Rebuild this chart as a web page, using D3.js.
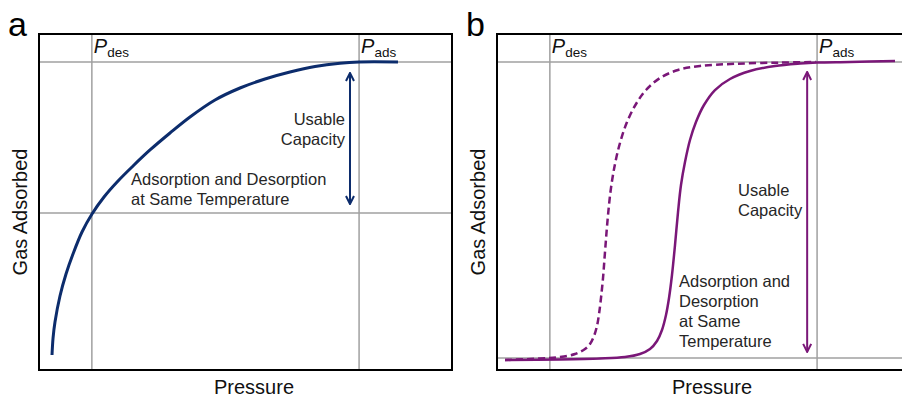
<!DOCTYPE html>
<html>
<head>
<meta charset="utf-8">
<script src="https://cdn.jsdelivr.net/npm/d3@7"></script>
<style>
  body { margin: 0; background: #fff; }
  text { font-family: "Liberation Sans", Arial, sans-serif; }
</style>
</head>
<body>
<div id="my_isotherms"></div>
<script>

// ======================= //
// DATA
// ======================= //

// panel a : single isotherm (pressure 0-100, gas adsorbed 0-100)
var isoA_pressure = [3.15, 3.40, 3.87, 5.08, 6.54, 8.23, 10.41, 12.83, 15.74, 19.13, 22.76, 26.88, 31.72, 36.56, 42.62, 48.67, 54.72, 60.77, 66.83, 72.88, 77.48, 86.92]
var isoA_gas      = [4.46, 9.50, 14.29, 22.02, 28.57, 34.52, 41.07, 46.43, 51.49, 56.25, 60.71, 65.48, 70.54, 75.30, 80.36, 83.93, 86.61, 88.69, 90.33, 91.31, 91.67, 91.67]

// panel b : adsorption (solid) and desorption (dashed) step isotherms
var adsB_pressure = [1.94, 15.25, 24.94, 30.99, 34.62, 37.05, 38.74, 39.95, 40.92, 41.65, 42.37, 43.10, 43.83, 44.55, 45.52, 46.73, 48.18, 50.12, 52.78, 56.42, 61.26, 67.31, 73.37, 77.48, 85.47, 96.37]
var adsB_gas      = [2.98, 3.13, 3.42, 3.87, 4.76, 6.25, 8.63, 11.90, 16.37, 21.43, 28.27, 37.20, 47.02, 55.06, 61.90, 68.45, 73.81, 78.87, 83.33, 86.61, 88.99, 90.48, 91.22, 91.52, 91.67, 91.96]
var desB_pressure = [1.94, 10.41, 15.25, 18.89, 21.31, 22.52, 23.49, 24.21, 24.70, 25.18, 25.67, 26.15, 26.88, 27.60, 28.57, 29.78, 31.48, 33.66, 36.08, 39.47, 43.83, 49.15, 57.63, 68.52, 77.24]
var desB_gas      = [2.98, 3.42, 3.87, 4.76, 6.25, 7.74, 10.12, 13.10, 16.67, 21.43, 27.38, 35.12, 46.13, 54.17, 61.31, 67.56, 73.81, 79.17, 83.33, 86.90, 89.29, 90.48, 91.13, 91.49, 91.67]

// reference pressures and uptakes
var pDes = 12.8
var pAds = 77.5
var levelsA = [91.7, 46.7]   // uptake at P_ads, uptake at P_des
var levelsB = [91.7, 3.6]

// labels
var axisX = "Pressure"
var axisY = "Gas Adsorbed"
var capacityLabel = ["Usable", "Capacity"]
var noteA = ["Adsorption and Desorption", "at Same Temperature"]
var noteB = ["Adsorption and", "Desorption", "at Same", "Temperature"]

function zipPts(xs, ys){ return xs.map(function(v, i){ return [v, ys[i]] }) }


// ======================= //
// SVG AREA
// ======================= //

var W = 902, H = 397
var svg = d3.select("#my_isotherms")
  .append("svg")
    .attr("width", W)
    .attr("height", H)

var blue = "#0c2c6c"
var purple = "#7a1778"
var gridGrey = "#a0a0a0"
var txt = "#262626"

var defs = svg.append("defs")
function addArrow(id, col){
  defs.append("marker")
    .attr("id", id)
    .attr("viewBox", "0 0 10 10")
    .attr("refX", 9).attr("refY", 5)
    .attr("markerWidth", 10).attr("markerHeight", 10)
    .attr("markerUnits", "userSpaceOnUse")
    .attr("orient", "auto-start-reverse")
    .append("path")
      .attr("d", "M1,1 L9,5 L1,9")
      .style("fill", "none")
      .style("stroke", col)
      .style("stroke-width", 2)
}
addArrow("arrA", blue)
addArrow("arrB", purple)


// ======================= //
// PANEL BUILDER
// ======================= //

function drawPanel(opt){

  var x = d3.scaleLinear().domain([0, 100]).range([opt.left, opt.left + 413])
  var y = d3.scaleLinear().domain([0, 100]).range([370, 34])
  var g = svg.append("g")

  // clip to frame
  var clipId = "clip" + opt.tag
  defs.append("clipPath").attr("id", clipId)
    .append("rect")
      .attr("x", x(0)).attr("y", y(100))
      .attr("width", x(100) - x(0)).attr("height", y(0) - y(100))

  // guide lines
  g.selectAll(".hline")
    .data(opt.levels)
    .enter()
    .append("line")
      .attr("x1", x(0)).attr("x2", x(100))
      .attr("y1", function(d){ return y(d) })
      .attr("y2", function(d){ return y(d) })
      .style("stroke", gridGrey)
      .style("stroke-width", 1.5)
  g.selectAll(".vline")
    .data([pDes, pAds])
    .enter()
    .append("line")
      .attr("x1", function(d){ return x(d) })
      .attr("x2", function(d){ return x(d) })
      .attr("y1", y(0)).attr("y2", y(100))
      .style("stroke", gridGrey)
      .style("stroke-width", 1.5)

  // P labels
  var pl = g.selectAll(".plab")
    .data([["des", pDes], ["ads", pAds]])
    .enter()
    .append("text")
      .attr("x", function(d){ return x(d[1]) + 2 })
      .attr("y", 53)
      .style("fill", "#111")
  pl.append("tspan")
      .text("P")
      .style("font-style", "italic")
      .style("font-size", "20px")
  pl.append("tspan")
      .attr("dy", 4)
      .text(function(d){ return d[0] })
      .style("font-size", "13.5px")

  // curves
  var line = d3.line()
    .x(function(d){ return x(d[0]) })
    .y(function(d){ return y(d[1]) })
    .curve(d3.curveCatmullRom.alpha(0.5))
  opt.series.forEach(function(s){
    g.append("path")
      .datum(s.pts)
      .attr("d", line)
      .attr("clip-path", "url(#" + clipId + ")")
      .style("fill", "none")
      .style("stroke", opt.color)
      .style("stroke-width", s.w)
      .style("stroke-dasharray", s.dash)
      .style("stroke-linecap", "butt")
  })

  // usable capacity arrow
  g.append("line")
    .attr("x1", x(opt.arrowX)).attr("x2", x(opt.arrowX))
    .attr("y1", y(opt.arrowY[0])).attr("y2", y(opt.arrowY[1]))
    .style("stroke", opt.color)
    .style("stroke-width", 2)
    .attr("marker-start", "url(#" + opt.marker + ")")
    .attr("marker-end", "url(#" + opt.marker + ")")

  // annotations
  function block(lines, xPos, y0, anchor){
    g.append("text")
      .attr("x", xPos)
      .attr("y", y0)
      .style("font-size", "16.5px")
      .style("fill", txt)
      .style("text-anchor", anchor)
      .selectAll("tspan")
      .data(lines)
      .enter()
      .append("tspan")
        .attr("x", xPos)
        .attr("dy", function(d, i){ return i == 0 ? 0 : 20 })
        .text(function(d){ return d })
  }
  block(capacityLabel, opt.capX, opt.capY, opt.capAnchor)
  block(opt.note, opt.noteX, opt.noteY, "start")

  // frame
  g.append("rect")
    .attr("x", x(0)).attr("y", y(100))
    .attr("width", x(100) - x(0)).attr("height", y(0) - y(100))
    .style("fill", "none")
    .style("stroke", "#000")
    .style("stroke-width", 2)

  // axis titles
  g.append("text")
    .attr("x", opt.left + 215)
    .attr("y", 394)
    .style("text-anchor", "middle")
    .style("font-size", "20px")
    .style("fill", "#111")
    .text(axisX)
  g.append("text")
    .attr("transform", "translate(" + (opt.left - 12) + "," + 212 + ")rotate(-90)")
    .style("text-anchor", "middle")
    .style("font-size", "20px")
    .style("fill", "#111")
    .text(axisY)

  // panel letter
  g.append("text")
    .attr("x", opt.left - 31)
    .attr("y", 36)
    .style("font-size", "34px")
    .style("fill", "#000")
    .text(opt.tag)
}


// ======================= //
// PANELS
// ======================= //

drawPanel({
  tag: "a", left: 39, color: blue, marker: "arrA",
  levels: levelsA,
  series: [{ pts: zipPts(isoA_pressure, isoA_gas), w: 3, dash: null }],
  arrowX: 75.3, arrowY: [88.4, 49.4],
  capX: 345, capY: 125, capAnchor: "end",
  note: noteA, noteX: 131, noteY: 185
})

drawPanel({
  tag: "b", left: 497, color: purple, marker: "arrB",
  levels: levelsB,
  series: [
    { pts: zipPts(adsB_pressure, adsB_gas), w: 2.5, dash: null },
    { pts: zipPts(desB_pressure, desB_gas), w: 2.5, dash: "7,4" }
  ],
  arrowX: 75.1, arrowY: [88.7, 5.4],
  capX: 738, capY: 196, capAnchor: "start",
  note: noteB, noteX: 679, noteY: 287
})

</script>
</body>
</html>
